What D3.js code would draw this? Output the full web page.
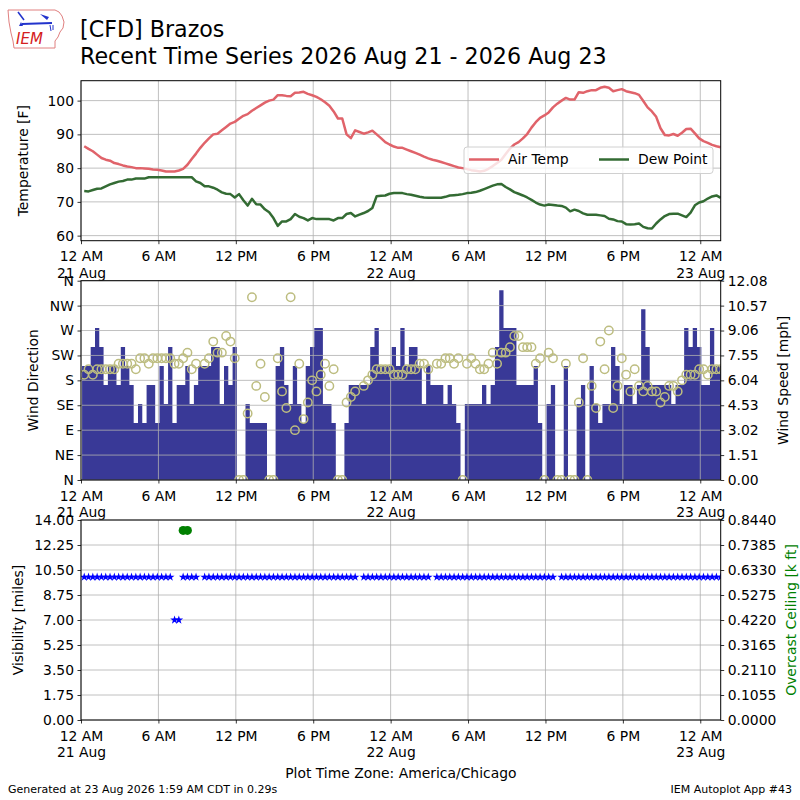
<!DOCTYPE html>
<html>
<head>
<meta charset="utf-8">
<title>CFD Recent Time Series</title>
<script src="https://cdn.jsdelivr.net/npm/d3@7"></script>
<style>
  body { margin: 0; background: #ffffff; }
  text { font-family: "DejaVu Sans", sans-serif; }
</style>
</head>
<body>
<div id="chart"></div>
<script>
// Titles
var titleLines = ["[CFD] Brazos", "Recent Time Series 2026 Aug 21 - 2026 Aug 23"];
var footerLeft = "Generated at 23 Aug 2026 1:59 AM CDT in 0.29s";
var footerRight = "IEM Autoplot App #43";
var timeZoneLabel = "Plot Time Zone: America/Chicago";

// Time axis (obs every 20 minutes)
var axisStart = "2026-08-21T00:00";
var obsStart = "2026-08-21T00:15";
var obsStepMinutes = 20;
var tickTimes = ["2026-08-21T00:00", "2026-08-21T06:00", "2026-08-21T12:00", "2026-08-21T18:00",
    "2026-08-22T00:00", "2026-08-22T06:00", "2026-08-22T12:00", "2026-08-22T18:00", "2026-08-23T00:00"];
var tickLabels = ["12 AM\n21 Aug", "6 AM", "12 PM", "6 PM", "12 AM\n22 Aug", "6 AM", "12 PM", "6 PM", "12 AM\n23 Aug"];

// Temperature panel [F]
var airTemp = [86.5, 85.7, 85, 84, 83, 82.5, 82.2, 81.5, 81.2, 80.8,
    80.5, 80.3, 80, 80, 79.9, 79.8, 79.6, 79.5, 79.3, 79,
    79, 79, 79.3, 79.8, 81, 82.7, 84.3, 86, 87.5, 88.8,
    90, 90.2, 91.2, 92.2, 93.2, 93.7, 94.6, 95.5, 96, 97,
    97.8, 98.6, 99.4, 100, 100.3, 101.6, 101.6, 101.4, 101.3, 102.3,
    102.4, 102.6, 102, 101.6, 101.1, 100.4, 99.5, 98.5, 96.8, 94.7,
    94.7, 90, 88.9, 91.2, 90.7, 90.2, 90.6, 91.1, 90, 88.9,
    87.7, 87, 86.4, 86, 86, 85.5, 85, 84.5, 84, 83.4,
    82.9, 82.5, 82.2, 81.8, 81.4, 81, 80.6, 80.2, 80, 79.7,
    79.4, 79.2, 79, 79.2, 79.8, 80.6, 81.5, 82.5, 84.2, 85.8,
    87, 87.7, 88.8, 90.1, 92, 93.6, 94.9, 95.6, 96.5, 98,
    99.1, 100, 100.8, 100.3, 100.3, 102.5, 102.3, 102.8, 103.1, 103.1,
    103.8, 104.1, 103.8, 102.8, 103.1, 103.4, 102.8, 102.5, 102.2, 101.7,
    99.9, 98, 96.8, 95.2, 91.8, 89.8, 89.7, 90.1, 89.6, 90.5,
    91.6, 91.7, 90.3, 88.8, 88, 87.5, 86.9, 86.5, 86.2];
var dewPoint = [73.2, 73.1, 73.5, 73.9, 74, 74.6, 75.2, 75.6, 76, 76.2,
    76.6, 76.6, 76.9, 76.9, 76.9, 77.3, 77.3, 77.3, 77.3, 77.3,
    77.3, 77.3, 77.3, 77.3, 77.3, 77.3, 76.1, 75.6, 74.6, 74.6,
    74.2, 73.6, 72.8, 72.4, 72.3, 71.3, 72.3, 70.5, 68.9, 70.9,
    69.3, 69.2, 67.8, 66.9, 65.2, 62.9, 64.2, 64.2, 64.9, 66.4,
    65.6, 65.2, 64.5, 65.2, 64.9, 64.9, 64.9, 64.9, 64.5, 65.2,
    65.2, 66.4, 66.7, 65.7, 66.2, 66.7, 67.3, 68.2, 71.7, 71.8,
    71.9, 72.4, 72.6, 72.6, 72.6, 72.3, 72.1, 71.8, 71.5, 71.3,
    71.2, 71.2, 71.2, 71.2, 71.5, 71.9, 72, 72.1, 72.3, 72.6,
    72.7, 72.9, 73.3, 73.8, 74.3, 74.8, 75.2, 75.3, 74.4, 73.7,
    72.9, 72.4, 71.9, 71.3, 70.6, 69.8, 69.2, 68.9, 69.2, 69.1,
    68.9, 68.8, 68.3, 67.2, 67.7, 67.3, 66.6, 66.2, 66.2, 66.2,
    66, 65.8, 65, 64.8, 64.3, 64.2, 63.4, 63.3, 63.4, 63.6,
    62.6, 62.2, 62.1, 63.6, 64.8, 65.8, 66.4, 66.5, 66.5, 66,
    65.5, 66.8, 69, 69.8, 70.2, 71, 71.6, 71.9, 71.2];
var legendLabels = ["Air Temp", "Dew Point"];
var tempTicks = [60, 70, 80, 90, 100];
var tempRange = [58.5, 105.9];

// Wind panel: speed [kt], direction [deg], null = variable / missing
var windKnots = [6, 6, 7, 8, 7, 5, 6, 6, 5, 7,
    6, 5, 3, 4, 3, 5, 5, 3, 6, 4,
    7, 3, 5, 5, 6, 4, 5, 6, 6, 6,
    7, 7, 4, 6, 5, 7, 0, 0, 4, 3,
    3, 3, 3, 0, 0, 6, 7, 5, 4, 6,
    4, 3, 6, 7, 8, 8, 4, 4, 3, 0,
    0, 3, 5, 5, 5, 5, 5, 7, 8, 6,
    6, 6, 7, 6, 8, 6, 7, 7, 6, 4,
    6, 5, 5, 5, 4, 5, 4, 3, 0, 4,
    4, 4, 4, 5, 4, 5, 7, 10, 8, 8,
    8, 5, 5, 5, 5, 6, 3, 0, 4, 5,
    0, 0, 6, 0, 0, 4, 5, 0, 6, 4,
    3, 4, 4, 7, 6, 4, 5, 5, 4, 5,
    9, 7, 5, 5, 5, 5, 5, 4, 5, 5,
    8, 7, 8, 7, 5, 5, 8, 6, 6];
var windDir = [190, 200, 190, 200, 200, 200, 200, 200, 210, 210,
    210, 210, 200, 220, 220, 210, 220, 220, 220, 220,
    220, 210, 210, 220, 230, 200, 210, null, 210, 220,
    250, 230, 230, 260, 250, 220, 0, 0, 120, 330,
    170, 210, 150, 0, 0, 220, 160, 130, 330, 90,
    210, 110, 140, 180, 160, 190, 210, 170, 200, 0,
    0, 140, 150, 160, null, 170, 180, 190, 200, 200,
    200, 200, 190, 190, 190, 200, 200, 200, 210, 210,
    200, null, 210, 210, 220, 220, 210, 220, 0, 210,
    220, 210, 200, 200, 210, 230, 210, 230, 230, 240,
    260, 260, 240, 240, 240, 210, 220, 0, 230, 220,
    0, 0, 210, 0, 0, 140, 220, 0, 170, 130,
    250, 200, 270, 130, 170, 220, 190, 160, 200, 170,
    160, 170, 160, 160, 140, 150, 170, 170, 160, 180,
    190, 190, 190, 200, 200, 190, 200, 200, 200];
var dirTicks = [0, 45, 90, 135, 180, 225, 270, 315, 360];
var dirLabels = ["N", "NE", "E", "SE", "S", "SW", "W", "NW", "N"];
var knotsToMph = 1.15078;
var windSpeedMax = 12.08;

// Visibility [miles] and overcast ceiling [k ft]
var visibility = [10, 10, 10, 10, 10, 10, 10, 10, 10, 10,
    10, 10, 10, 10, 10, 10, 10, 10, 10, 10,
    10, 7, 7, 10, 10, 10, 10, null, 10, 10,
    10, 10, 10, 10, 10, 10, 10, 10, 10, 10,
    10, 10, 10, 10, 10, 10, 10, 10, 10, 10,
    10, 10, 10, 10, 10, 10, 10, 10, 10, 10,
    10, 10, 10, 10, null, 10, 10, 10, 10, 10,
    10, 10, 10, 10, 10, 10, 10, 10, 10, 10,
    10, null, 10, 10, 10, 10, 10, 10, 10, 10,
    10, 10, 10, 10, 10, 10, 10, 10, 10, 10,
    10, 10, 10, 10, 10, 10, 10, 10, 10, 10,
    null, 10, 10, 10, 10, 10, 10, 10, 10, 10,
    10, 10, 10, 10, 10, 10, 10, 10, 10, 10,
    10, 10, 10, 10, 10, 10, 10, 10, 10, 10,
    10, 10, 10, 10, 10, 10, 10, 10, 10];
var visMax = 14;
var ceilingTimes = ["2026-08-21T07:55", "2026-08-21T08:15"];
var ceilingKft = [0.8, 0.8];
var ceilingMax = 0.844;

// Layout
var width = 800;
var height = 800;
var plotLeft = 81;
var plotRight = 720.7;
var tickFont = "13.9px";
var gridColor = "#b0b0b0";

var svg;
var x;
var parseTime = d3.utcParse("%Y-%m-%dT%H:%M");
var obsTimes;

function linspace(max, n) {
    return d3.range(n).map(function (i) { return max * i / (n - 1); });
}

// Frame round a panel
function drawFrame(top, bottom) {
    svg.append("rect")
        .attr("x", plotLeft)
        .attr("y", top)
        .attr("width", plotRight - plotLeft)
        .attr("height", bottom - top)
        .attr("fill", "none")
        .attr("stroke", "#000")
        .attr("stroke-width", 1);
}

function drawGrid(y, yTicks, top, bottom) {
    var g = svg.append("g");
    g.selectAll("line.vgrid")
        .data(tickTimes.map(parseTime))
        .enter()
        .append("line")
        .attr("class", "vgrid")
        .attr("x1", function (d) { return x(d); })
        .attr("x2", function (d) { return x(d); })
        .attr("y1", top)
        .attr("y2", bottom)
        .attr("stroke", gridColor)
        .attr("stroke-width", 0.8);
    g.selectAll("line.hgrid")
        .data(yTicks)
        .enter()
        .append("line")
        .attr("class", "hgrid")
        .attr("x1", plotLeft)
        .attr("x2", plotRight)
        .attr("y1", function (d) { return y(d); })
        .attr("y2", function (d) { return y(d); })
        .attr("stroke", gridColor)
        .attr("stroke-width", 0.8);
}

function drawTimeAxis(yPos) {
    var g = svg.append("g")
        .attr("transform", "translate(0," + yPos + ")")
        .call(d3.axisBottom(x).tickValues(tickTimes.map(parseTime)).tickSize(3.5).tickFormat(""));
    g.select(".domain").remove();
    g.selectAll(".tick line").attr("stroke", "#000").attr("stroke-width", 0.8);
    g.selectAll(".tick text").remove();
    g.selectAll(".tick").each(function (d, i) {
        var label = d3.select(this).append("text")
            .attr("text-anchor", "middle")
            .attr("font-size", tickFont)
            .attr("fill", "#000");
        tickLabels[i].split("\n").forEach(function (line, j) {
            label.append("tspan").attr("x", 0).attr("y", 20.5 + j * 16.5).text(line);
        });
    });
}

function drawYAxis(scale, values, labels, side) {
    var axis = side === "left" ? d3.axisLeft(scale) : d3.axisRight(scale);
    var g = svg.append("g")
        .attr("transform", "translate(" + (side === "left" ? plotLeft : plotRight) + ",0)")
        .call(axis.tickValues(values).tickSize(3.5).tickPadding(3.5)
            .tickFormat(function (d, i) { return labels[i]; }));
    g.select(".domain").remove();
    g.selectAll(".tick line").attr("stroke", "#000").attr("stroke-width", 0.8);
    g.selectAll(".tick text")
        .attr("font-size", tickFont)
        .attr("font-family", "DejaVu Sans, sans-serif")
        .attr("fill", "#000");
}

function yLabel(text, xPos, yCenter, color) {
    svg.append("text")
        .attr("transform", "translate(" + xPos + "," + yCenter + ") rotate(-90)")
        .attr("text-anchor", "middle")
        .attr("dominant-baseline", "central")
        .attr("font-size", tickFont)
        .attr("fill", color || "#000")
        .text(text);
}

function clipTo(id, top, bottom) {
    svg.append("clipPath").attr("id", id)
        .append("rect")
        .attr("x", plotLeft)
        .attr("y", top)
        .attr("width", plotRight - plotLeft)
        .attr("height", bottom - top);
    return "url(#" + id + ")";
}

// IEM logo: Iowa outline, station sketch, letters
function drawLogo() {
    var g = svg.append("g");
    g.append("path")
        .attr("d", "M8,10 L55,10 L59,12 L62,16 L64,22 L63,28 L60,32 L58,37 L55,41 L55,48 L14,48 L13,41 L11,33 L9,22 Z")
        .attr("fill", "#fff")
        .attr("stroke", "#e08080")
        .attr("stroke-width", 1);
    g.append("line").attr("x1", 22).attr("y1", 24).attr("x2", 52).attr("y2", 23)
        .attr("stroke", "#2233cc").attr("stroke-width", 2);
    g.append("line").attr("x1", 18).attr("y1", 12).attr("x2", 24).attr("y2", 20)
        .attr("stroke", "#2233cc").attr("stroke-width", 1.5);
    g.append("path").attr("d", "M40,14 L49,17 L47,20 Z").attr("fill", "#2233cc");
    g.append("path").attr("d", "M50,25 L51,31 M53,25 L53,30").attr("stroke", "#2233cc").attr("stroke-width", 1);
    g.append("path").attr("d", "M19,26 L21,22 L23,26 Z").attr("fill", "#2233cc");
    g.append("text")
        .attr("x", 16)
        .attr("y", 44)
        .attr("font-family", "Liberation Serif, serif")
        .attr("font-style", "italic")
        .attr("font-size", "15px")
        .attr("fill", "#d42020")
        .text("IEM");
}

function drawChart() {
    svg = d3.select("#chart")
        .append("svg")
        .attr("width", width)
        .attr("height", height)
        .style("background", "#fff");

    var t0 = parseTime(obsStart);
    obsTimes = airTemp.map(function (d, i) { return d3.utcMinute.offset(t0, i * obsStepMinutes); });

    x = d3.scaleUtc()
        .domain([parseTime(axisStart), obsTimes[obsTimes.length - 1]])
        .range([plotLeft, plotRight]);
    var barWidth = x(d3.utcMinute.offset(t0, obsStepMinutes)) - x(t0);

    drawLogo();
    svg.selectAll("text.title")
        .data(titleLines)
        .enter()
        .append("text")
        .attr("class", "title")
        .attr("x", 80)
        .attr("y", function (d, i) { return 37 + i * 27; })
        .attr("font-size", "22.2px")
        .attr("fill", "#000")
        .text(function (d) { return d; });

    // ---- Temperature panel
    var tTop = 80.7, tBottom = 240.7;
    var yT = d3.scaleLinear().domain(tempRange).range([tBottom, tTop]);
    drawGrid(yT, tempTicks, tTop, tBottom);
    var clipT = clipTo("clipTemp", tTop, tBottom);
    var series = [
        { values: airTemp, color: "#e0636a", label: legendLabels[0] },
        { values: dewPoint, color: "#336b33", label: legendLabels[1] }
    ];
    series.forEach(function (s) {
        var line = d3.line()
            .defined(function (d) { return d != null; })
            .x(function (d, i) { return x(obsTimes[i]); })
            .y(function (d) { return yT(d); });
        svg.append("path")
            .datum(s.values)
            .attr("clip-path", clipT)
            .attr("d", line)
            .attr("fill", "none")
            .attr("stroke", s.color)
            .attr("stroke-width", 2.5)
            .attr("stroke-linejoin", "round");
    });
    drawFrame(tTop, tBottom);
    drawYAxis(yT, tempTicks, tempTicks.map(String), "left");
    yLabel("Temperature [F]", 23, (tTop + tBottom) / 2);
    drawTimeAxis(tBottom);

    // Legend
    var leg = svg.append("g").attr("transform", "translate(464,147)");
    leg.append("rect")
        .attr("width", 249)
        .attr("height", 26.5)
        .attr("rx", 3)
        .attr("fill", "#fff")
        .attr("fill-opacity", 0.8)
        .attr("stroke", "#d0d0d0")
        .attr("stroke-width", 1);
    series.forEach(function (s, i) {
        var ox = i === 0 ? 5 : 135;
        leg.append("line")
            .attr("x1", ox).attr("x2", ox + 30)
            .attr("y1", 12.5).attr("y2", 12.5)
            .attr("stroke", s.color)
            .attr("stroke-width", 2.5);
        leg.append("text")
            .attr("x", ox + 39)
            .attr("y", 17.3)
            .attr("font-size", tickFont)
            .attr("fill", "#000")
            .text(s.label);
    });

    // ---- Wind panel
    var wTop = 280.7, wBottom = 480;
    var yDir = d3.scaleLinear().domain([0, 360]).range([wBottom, wTop]);
    var ySpd = d3.scaleLinear().domain([0, windSpeedMax]).range([wBottom, wTop]);
    var clipW = clipTo("clipWind", wTop, wBottom);

    // speed bars as one path so neighbours join without seams
    var barPath = d3.path();
    windKnots.forEach(function (d, i) {
        if (d == null || d <= 0) return;
        var top = ySpd(d * knotsToMph);
        barPath.rect(x(obsTimes[i]) - barWidth / 2, top, barWidth, wBottom - top);
    });
    svg.append("path")
        .attr("clip-path", clipW)
        .attr("d", barPath.toString())
        .attr("fill", "#393997");

    drawGrid(yDir, dirTicks, wTop, wBottom);
    svg.append("g")
        .attr("clip-path", clipW)
        .selectAll("circle")
        .data(windDir.map(function (d, i) { return { t: obsTimes[i], dir: d }; })
            .filter(function (d) { return d.dir != null; }))
        .enter()
        .append("circle")
        .attr("cx", function (d) { return x(d.t); })
        .attr("cy", function (d) { return yDir(d.dir); })
        .attr("r", 4.2)
        .attr("fill", "none")
        .attr("stroke", "#bdbd80")
        .attr("stroke-width", 1.5);
    drawFrame(wTop, wBottom);
    drawYAxis(yDir, dirTicks, dirLabels, "left");
    var spdTicks = linspace(windSpeedMax, 9);
    drawYAxis(ySpd, spdTicks, spdTicks.map(function (d) { return d.toFixed(2); }), "right");
    yLabel("Wind Direction", 33, (wTop + wBottom) / 2);
    yLabel("Wind Speed [mph]", 783, (wTop + wBottom) / 2);
    drawTimeAxis(wBottom);

    // ---- Visibility / ceiling panel
    var vTop = 520, vBottom = 720;
    var yVis = d3.scaleLinear().domain([0, visMax]).range([vBottom, vTop]);
    var yCig = d3.scaleLinear().domain([0, ceilingMax]).range([vBottom, vTop]);
    var visTicks = linspace(visMax, 9);
    var cigTicks = linspace(ceilingMax, 9);
    drawGrid(yVis, visTicks, vTop, vBottom);
    var clipV = clipTo("clipVis", vTop, vBottom);
    svg.append("g")
        .attr("clip-path", clipV)
        .selectAll("circle")
        .data(ceilingTimes.map(function (t, i) { return { t: parseTime(t), v: ceilingKft[i] }; }))
        .enter()
        .append("circle")
        .attr("cx", function (d) { return x(d.t); })
        .attr("cy", function (d) { return yCig(d.v); })
        .attr("r", 4.5)
        .attr("fill", "#008000");
    var star = d3.symbol().type(d3.symbolStar).size(23);
    svg.append("g")
        .attr("clip-path", clipV)
        .selectAll("path")
        .data(visibility.map(function (d, i) { return { t: obsTimes[i], v: d }; })
            .filter(function (d) { return d.v != null; }))
        .enter()
        .append("path")
        .attr("d", star)
        .attr("transform", function (d) { return "translate(" + x(d.t) + "," + yVis(d.v) + ")"; })
        .attr("fill", "#0000ff");
    drawFrame(vTop, vBottom);
    drawYAxis(yVis, visTicks, visTicks.map(function (d) { return d.toFixed(2); }), "left");
    drawYAxis(yCig, cigTicks, cigTicks.map(function (d) { return d.toFixed(4); }), "right");
    yLabel("Visibility [miles]", 18, (vTop + vBottom) / 2);
    yLabel("Overcast Ceiling [k ft]", 791, (vTop + vBottom) / 2, "#008000");
    drawTimeAxis(vBottom);

    svg.append("text")
        .attr("x", (plotLeft + plotRight) / 2)
        .attr("y", 778)
        .attr("text-anchor", "middle")
        .attr("font-size", tickFont)
        .text(timeZoneLabel);

    // Footer
    svg.append("text")
        .attr("x", 8)
        .attr("y", 793)
        .attr("font-size", "11px")
        .text(footerLeft);
    svg.append("text")
        .attr("x", 792)
        .attr("y", 793)
        .attr("text-anchor", "end")
        .attr("font-size", "11px")
        .text(footerRight);
}

drawChart();
</script>
</body>
</html>
